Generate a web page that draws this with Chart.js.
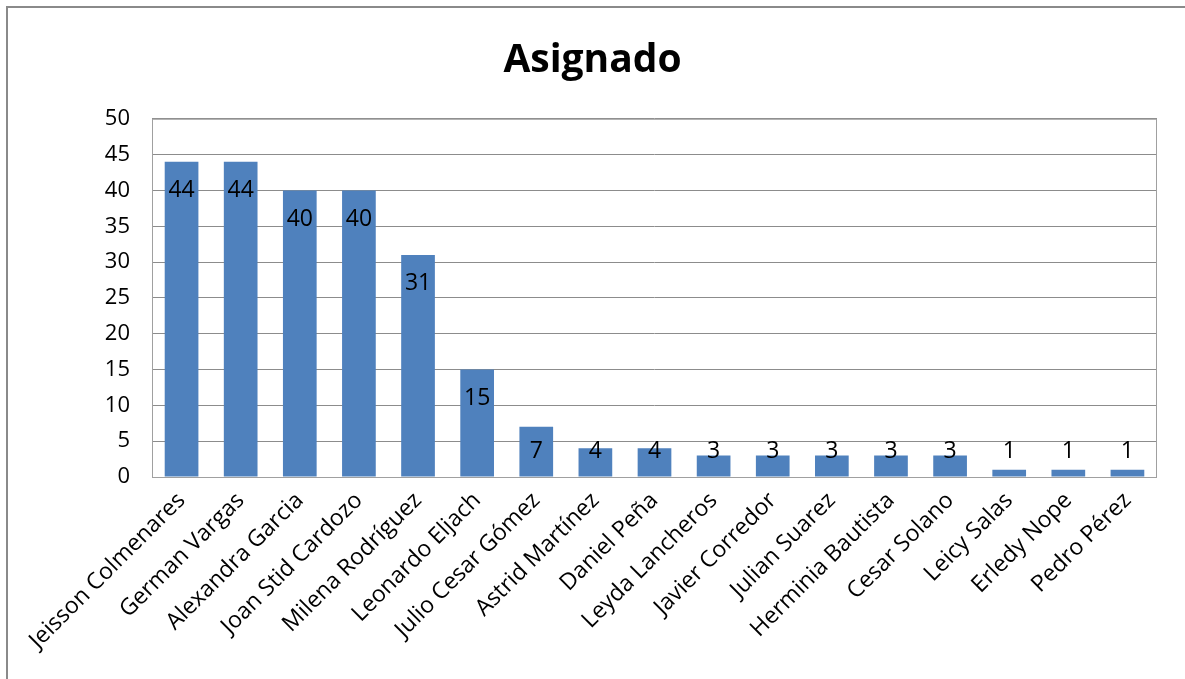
<!DOCTYPE html>
<html lang="es">
<head>
  <meta charset="UTF-8">
  <title>Asignado</title>
  <script src="https://cdn.jsdelivr.net/npm/chart.js"></script>
  <style>
    html, body {
      margin: 0;
      padding: 0;
      background: #ffffff;
      overflow: hidden;
    }
    #frame {
      position: absolute;
      left: 6px;
      top: 6px;
      width: 1200px;
      height: 700px;
      border: 2px solid #8a8a8a;
    }
    #wrap {
      position: absolute;
      left: 0;
      top: 0;
      width: 1185px;
      height: 679px;
    }
  </style>
</head>
<body>
  <div id="frame"></div>
  <div id="wrap"><canvas id="chart"></canvas></div>

  <script>
    const nombres = [
      'Jeisson Colmenares', 'German Vargas', 'Alexandra Garcia', 'Joan Stid Cardozo',
      'Milena Rodríguez', 'Leonardo Eljach', 'Julio Cesar Gómez', 'Astrid Martínez',
      'Daniel Peña', 'Leyda Lancheros', 'Javier Corredor', 'Julian Suarez',
      'Herminia Bautista', 'Cesar Solano', 'Leicy Salas', 'Erledy Nope', 'Pedro Pérez'
    ];
    const asignado = [44, 44, 40, 40, 31, 15, 7, 4, 4, 3, 3, 3, 3, 3, 1, 1, 1];
    const ticksY = [0, 5, 10, 15, 20, 25, 30, 35, 40, 45, 50];

    const fuente = "'Open Sans', sans-serif";

    // borde gris del area de trazado
    const plotBorder = {
      id: 'plotBorder',
      afterDraw(chart) {
        const a = chart.chartArea;
        const ctx = chart.ctx;
        ctx.save();
        ctx.strokeStyle = '#a0a0a0';
        ctx.lineWidth = 1;
        ctx.strokeRect(a.left + 0.5, a.top + 0.5, a.right - a.left - 1, a.bottom - a.top);
        ctx.restore();
      }
    };

    // etiquetas de valor dentro del extremo de la barra
    const valueLabels = {
      id: 'valueLabels',
      afterDatasetsDraw(chart) {
        const ctx = chart.ctx;
        const meta = chart.getDatasetMeta(0);
        const base = chart.scales.y.getPixelForValue(0);
        ctx.save();
        ctx.fillStyle = '#000000';
        ctx.font = "23px " + fuente;
        ctx.textAlign = 'center';
        ctx.textBaseline = 'middle';
        meta.data.forEach((bar, i) => {
          const y = Math.min(bar.y + 29, base - 26);
          ctx.fillText(String(asignado[i]), bar.x, y);
        });
        ctx.restore();
      }
    };

    new Chart(document.getElementById('chart'), {
      type: 'bar',
      data: {
        labels: nombres,
        datasets: [{
          label: 'Asignado',
          data: asignado,
          backgroundColor: '#4f81bd',
          borderWidth: 0,
          barPercentage: 0.57,
          categoryPercentage: 1
        }]
      },
      options: {
        responsive: true,
        maintainAspectRatio: false,
        animation: false,
        layout: { padding: { left: 0, right: 0, top: 0, bottom: 0 } },
        plugins: {
          legend: { display: false },
          tooltip: { enabled: false },
          title: {
            display: true,
            text: 'Asignado',
            color: '#000000',
            font: { family: fuente, size: 39, weight: 'bold' },
            padding: { top: 37, bottom: 35 }
          }
        },
        scales: {
          y: {
            min: 0,
            max: 50,
            afterBuildTicks: s => { s.ticks = ticksY.map(v => ({ value: v })); },
            afterFit: s => { s.width = 152; },
            ticks: {
              color: '#000000',
              font: { family: fuente, size: 22 },
              padding: 22
            },
            grid: { color: '#8c8c8c', drawTicks: false },
            border: { display: false }
          },
          margen: {
            position: 'right',
            afterFit: s => { s.width = 28; },
            ticks: { display: false },
            grid: { display: false },
            border: { display: false }
          },
          x: {
            afterFit: s => { s.height = 202; },
            ticks: {
              color: '#000000',
              font: { family: fuente, size: 23 },
              minRotation: 45,
              maxRotation: 45,
              autoSkip: false,
              padding: 2
            },
            grid: { display: false },
            border: { display: false }
          }
        }
      },
      plugins: [plotBorder, valueLabels]
    });
  </script>
</body>
</html>
